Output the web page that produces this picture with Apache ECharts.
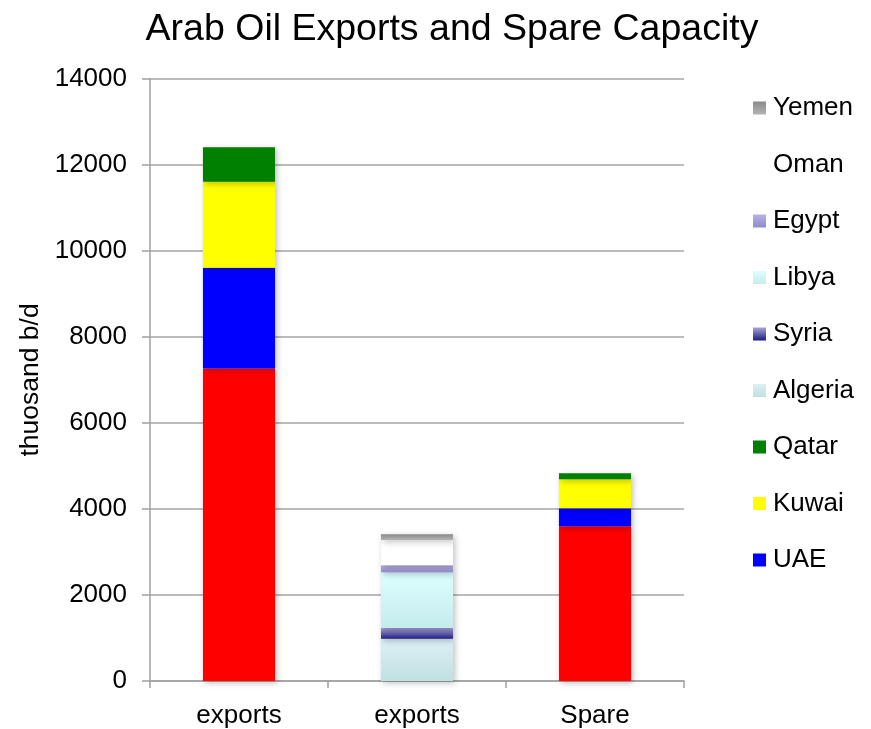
<!DOCTYPE html>
<html>
<head>
<meta charset="utf-8">
<script src="https://cdn.jsdelivr.net/npm/echarts@6/dist/echarts.min.js"></script>
<style>
  html, body { margin: 0; padding: 0; background: #fff; }
  #chart { width: 871px; height: 729px; }
</style>
</head>
<body>
<div id="chart"></div>
<script>
// Categories along the x axis
const categories = ['exports', 'exports', 'Spare'];

// Series values, thousand barrels per day (stacked bottom to top)
const saudi   = [7270, 0, 3600];
const uae     = [2340, 0, 420];
const kuwai   = [2000, 0, 670];
const qatar   = [800, 0, 140];
const algeria = [0, 980, 0];
const syria   = [0, 250, 0];
const libya   = [0, 1300, 0];
const egypt   = [0, 160, 0];
const oman    = [0, 590, 0];
const yemen   = [0, 130, 0];

// Y axis tick values
const yTicks = [0, 2000, 4000, 6000, 8000, 10000, 12000, 14000];

const FONT = '"Liberation Sans", Arial, sans-serif';

function grad(top, bottom) {
  return new echarts.graphic.LinearGradient(0, 0, 0, 1, [
    { offset: 0, color: top },
    { offset: 1, color: bottom }
  ]);
}

const seriesDefs = [
  { name: 'Saudi Arabia', data: saudi,   color: '#ff0000' },
  { name: 'UAE',          data: uae,     color: '#0000ff' },
  { name: 'Kuwai',        data: kuwai,   color: '#ffff00' },
  { name: 'Qatar',        data: qatar,   color: '#008000' },
  { name: 'Algeria',      data: algeria, color: grad('#dcf1f5', '#c2dfe0') },
  { name: 'Syria',        data: syria,   color: grad('#a9a3dc', '#1c1c7c') },
  { name: 'Libya',        data: libya,   color: grad('#dcffff', '#c6ebec') },
  { name: 'Egypt',        data: egypt,   color: grad('#b8b0ec', '#8f8cc8') },
  { name: 'Oman',         data: oman,    color: '#ffffff' },
  { name: 'Yemen',        data: yemen,   color: grad('#8a8a8a', '#b4b4b4') }
];

const chart = echarts.init(document.getElementById('chart'), null, { renderer: 'canvas' });

chart.setOption({
  backgroundColor: '#ffffff',
  animation: false,
  title: {
    text: 'Arab Oil Exports and Spare Capacity',
    left: 452,
    top: 11,
    padding: 0,
    textAlign: 'center',
    textStyle: { fontFamily: FONT, fontSize: 37.5, fontWeight: 'normal', color: '#000' }
  },
  legend: {
    orient: 'vertical',
    left: 753,
    top: 95,
    padding: 0,
    itemWidth: 13,
    itemHeight: 13,
    itemGap: 30.5,
    icon: 'rect',
    data: ['Yemen', 'Oman', 'Egypt', 'Libya', 'Syria', 'Algeria', 'Qatar', 'Kuwai', 'UAE'],
    textStyle: { fontFamily: FONT, fontSize: 26, lineHeight: 26, color: '#000', padding: [0, 0, 0, 2] }
  },
  grid: { left: 150, right: 187, top: 79, bottom: 47, containLabel: false },
  xAxis: {
    type: 'category',
    data: categories,
    axisLine: { lineStyle: { color: '#a0a0a0', width: 1.5 } },
    axisTick: { show: true, length: 7, alignWithLabel: false, lineStyle: { color: '#a0a0a0', width: 1.5 } },
    axisLabel: { fontFamily: FONT, fontSize: 26, color: '#000', margin: 22 }
  },
  yAxis: {
    type: 'value',
    min: yTicks[0],
    max: yTicks[yTicks.length - 1],
    interval: 2000,
    name: 'thuosand b/d',
    nameLocation: 'middle',
    nameRotate: 90,
    nameGap: 106,
    nameTextStyle: { fontFamily: FONT, fontSize: 26.5, color: '#000' },
    axisLine: { show: true, lineStyle: { color: '#a0a0a0', width: 1.5 } },
    axisTick: { show: true, length: 8, inside: false, lineStyle: { color: '#a0a0a0', width: 1.5 } },
    axisLabel: {
      fontFamily: FONT, fontSize: 26, color: '#000', margin: 23,
      formatter: v => String(v)
    },
    splitLine: { lineStyle: { color: '#a6a6a6', width: 1.5 } }
  },
  series: seriesDefs.map(s => ({
    name: s.name,
    type: 'bar',
    stack: 'total',
    barWidth: '40.5%',
    data: s.data,
    itemStyle: {
      color: s.color,
      shadowColor: 'rgba(0,0,0,0.25)',
      shadowBlur: 6,
      shadowOffsetX: 2,
      shadowOffsetY: 2
    }
  }))
});
</script>
</body>
</html>
